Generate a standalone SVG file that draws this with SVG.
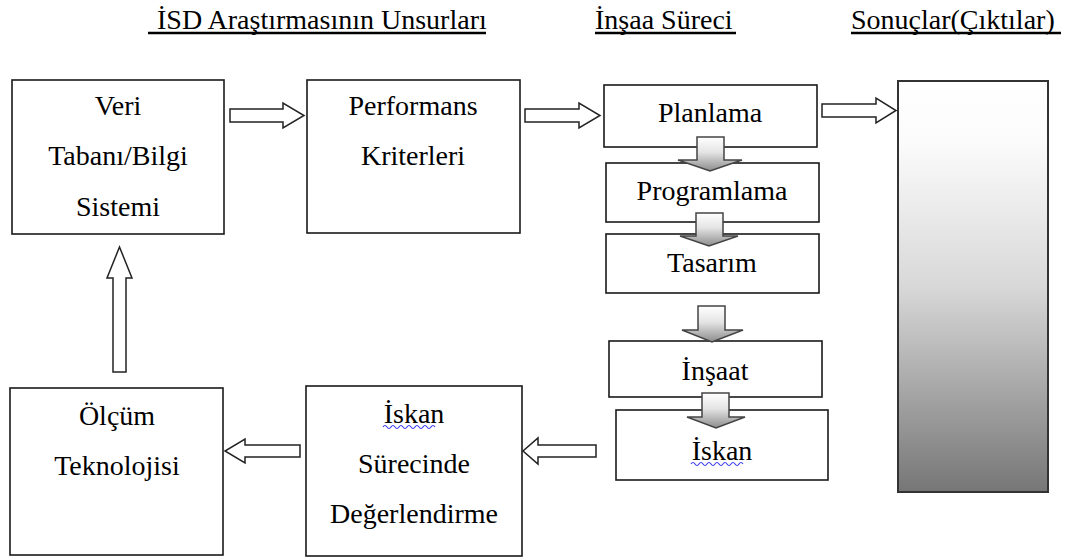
<svg xmlns="http://www.w3.org/2000/svg" width="1066" height="560" viewBox="0 0 1066 560">
<style>
  text { font-family: "Liberation Serif", "Times New Roman", serif; font-size: 28px; fill: #000; }
  .c { text-anchor: middle; }
  .box { fill: #fff; stroke: #1a1a1a; stroke-width: 1.6; }
  .hollow { fill: #fff; stroke: #222; stroke-width: 1.5; stroke-linejoin: miter; }
  .grad { fill: url(#ga); stroke: #444; stroke-width: 1.5; }
  .ul { stroke: #000; stroke-width: 2.5; }
  .wavy { fill: none; stroke: #3b3bf0; stroke-width: 1.2; }
</style>
<defs>
  <linearGradient id="ga" x1="0" y1="0" x2="0" y2="1">
    <stop offset="0" stop-color="#ffffff"/>
    <stop offset="0.45" stop-color="#e4e4e4"/>
    <stop offset="1" stop-color="#8c8c8c"/>
  </linearGradient>
  <linearGradient id="gr" x1="0" y1="0" x2="0" y2="1">
    <stop offset="0" stop-color="#ffffff"/>
    <stop offset="0.15" stop-color="#fbfbfb"/>
    <stop offset="0.5" stop-color="#d8d8d8"/>
    <stop offset="1" stop-color="#767676"/>
  </linearGradient>
</defs>
<rect width="1066" height="560" fill="#fff"/>

<g id="titles">
  <text x="157" y="29">İSD Araştırmasının Unsurları</text>
  <line class="ul" x1="148" y1="33" x2="486" y2="33"/>
  <text x="595" y="29">İnşaa Süreci</text>
  <line class="ul" x1="595" y1="33" x2="736" y2="33"/>
  <text x="851" y="29">Sonuçlar(Çıktılar)</text>
  <line class="ul" x1="851" y1="33" x2="1061" y2="33"/>
</g>

<g id="node-veri">
  <rect class="box" x="12" y="80" width="212" height="154"/>
  <text class="c" x="118" y="115">Veri</text>
  <text class="c" x="118" y="165">Tabanı/Bilgi</text>
  <text class="c" x="118" y="216">Sistemi</text>
</g>
<g id="node-performans">
  <rect class="box" x="307" y="80" width="213" height="153"/>
  <text class="c" x="413" y="115">Performans</text>
  <text class="c" x="413" y="165">Kriterleri</text>
</g>
<g id="node-planlama">
  <rect class="box" x="604" y="85" width="213" height="62"/>
  <text class="c" x="710" y="122">Planlama</text>
</g>
<g id="node-programlama">
  <rect class="box" x="606" y="163" width="213" height="59"/>
  <text class="c" x="712" y="200">Programlama</text>
</g>
<g id="node-tasarim">
  <rect class="box" x="606" y="234" width="213" height="59"/>
  <text class="c" x="712" y="272">Tasarım</text>
</g>
<g id="node-insaat">
  <rect class="box" x="609" y="341" width="213" height="56"/>
  <text class="c" x="715" y="380">İnşaat</text>
</g>
<g id="node-iskan">
  <rect class="box" x="616" y="410" width="212" height="70"/>
  <text class="c" x="722" y="460">İskan</text>
  <path class="wavy" d="M691 464 q2 -3 4 0 t4 0 t4 0 t4 0 t4 0 t4 0 t4 0 t4 0 t4 0 t4 0 t4 0 t4 0 t4 0"/>
</g>
<g id="node-sonuclar">
  <rect x="898" y="81" width="150" height="411" fill="url(#gr)" stroke="#333" stroke-width="2"/>
</g>
<g id="node-degerlendirme">
  <rect class="box" x="306" y="386" width="216" height="170"/>
  <text class="c" x="414" y="423">İskan</text>
  <path class="wavy" d="M383 427 q2 -3 4 0 t4 0 t4 0 t4 0 t4 0 t4 0 t4 0 t4 0 t4 0 t4 0 t4 0 t4 0 t4 0"/>
  <text class="c" x="414" y="473">Sürecinde</text>
  <text class="c" x="414" y="523">Değerlendirme</text>
</g>
<g id="node-olcum">
  <rect class="box" x="10" y="388" width="213" height="167"/>
  <text class="c" x="117" y="425">Ölçüm</text>
  <text class="c" x="117" y="475">Teknolojisi</text>
</g>

<g id="connectors">
  <polygon class="hollow" points="230,109 283,109 283,103 304,115.5 283,128 283,122 230,122"/>
  <polygon class="hollow" points="525,109 579,109 579,103 600,115.5 579,128 579,122 525,122"/>
  <polygon class="hollow" points="822,104 876,104 876,98 896,110.5 876,123 876,117 822,117"/>
  <polygon class="hollow" points="596,445 538,445 538,438 523,451 538,464 538,457 596,457"/>
  <polygon class="hollow" points="300,445 245,445 245,439 225,451 245,463 245,457 300,457"/>
  <polygon class="hollow" points="113,372 113,278 107,278 119.5,247 132,278 126,278 126,372"/>
  <polygon class="grad" points="697,137 724,137 724,160 742,160 710,171 678,160 697,160"/>
  <polygon class="grad" points="696,213 723,213 723,236 738,236 709,246 680,236 696,236"/>
  <polygon class="grad" points="698,306 725,306 725,330 743,330 712,342 682,330 698,330"/>
  <polygon class="grad" points="702,393 729,393 729,417 745,417 716,428 687,417 702,417"/>
</g>
</svg>
